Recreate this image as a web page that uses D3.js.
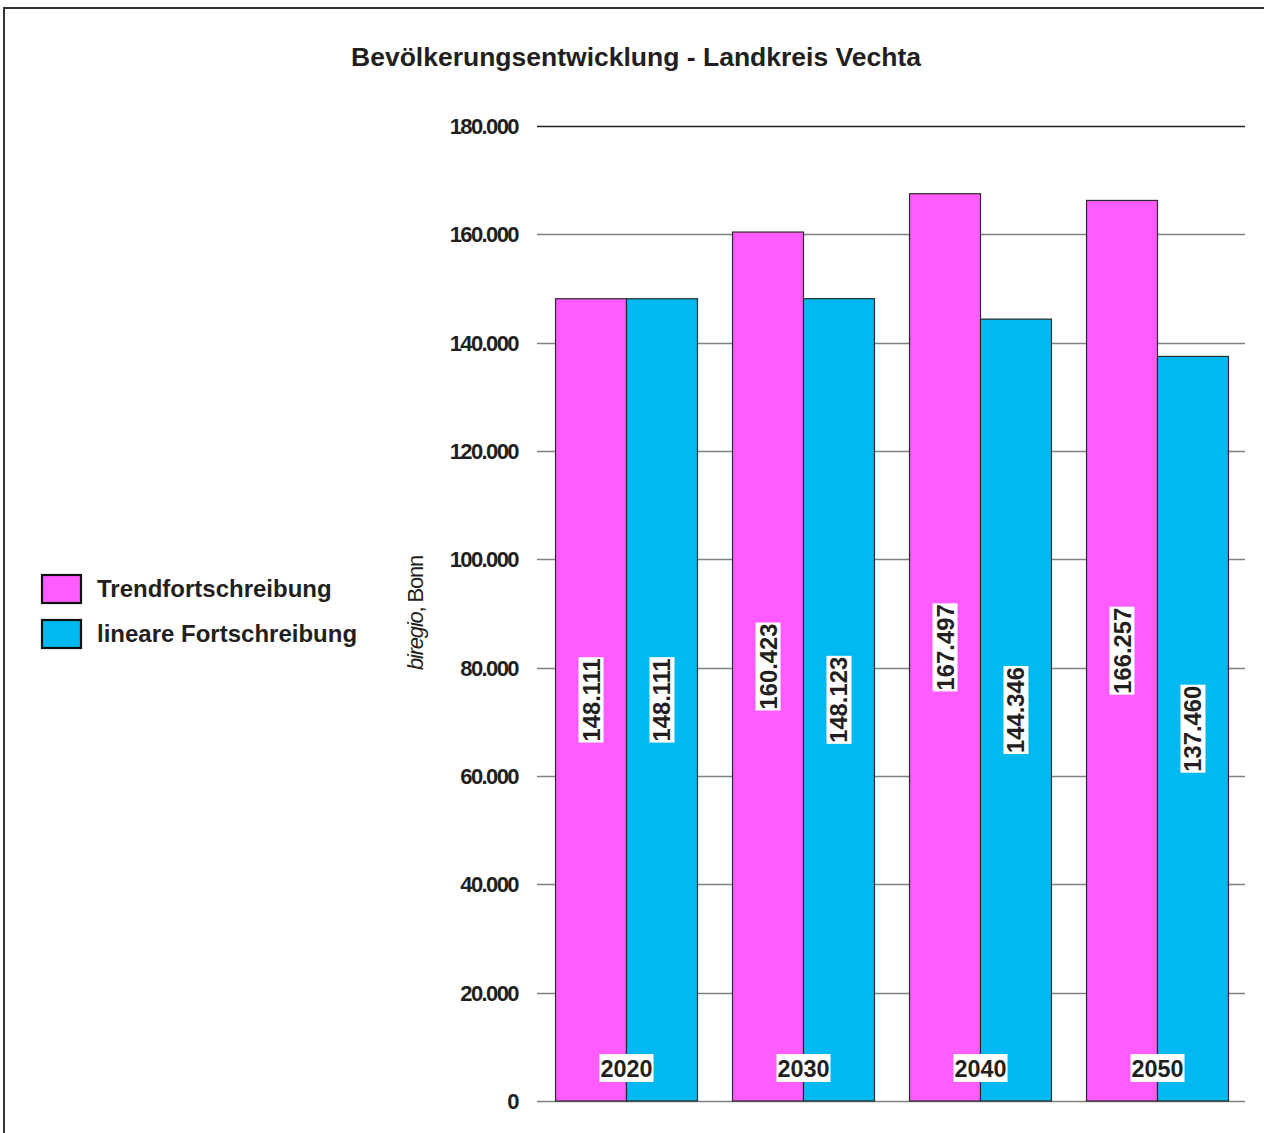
<!DOCTYPE html>
<html>
<head>
<meta charset="utf-8">
<script src="https://cdn.jsdelivr.net/npm/d3@7"></script>
<style>
  html, body { margin: 0; padding: 0; background: #fff; }
  svg { display: block; font-family: "Liberation Sans", Arial, sans-serif; }
</style>
</head>
<body>
<svg id="chart" width="1264" height="1133"></svg>
<script>
// Population projection, district of Vechta
const years = ["2020", "2030", "2040", "2050"];
const seriesNames = ["Trendfortschreibung", "lineare Fortschreibung"];
const trendValues = [148111, 160423, 167497, 166257];
const linearValues = [148111, 148123, 144346, 137460];
const yTicks = [0, 20000, 40000, 60000, 80000, 100000, 120000, 140000, 160000, 180000];
const seriesColors = ["#ff5cff", "#00b9f0"];

const svg = d3.select("#chart");
const ink = "#231f20";
const fmt = v => v === 0 ? "0" : d3.format(",")(v).replace(/,/g, ".");

// Outer frame
svg.append("rect")
  .attr("x", 4).attr("y", 8).attr("width", 1300).attr("height", 1200)
  .attr("fill", "none").attr("stroke", "#333").attr("stroke-width", 2);

// Title
svg.append("text")
  .attr("x", 636).attr("y", 66)
  .attr("text-anchor", "middle")
  .attr("font-size", 26.5).attr("font-weight", "bold").attr("fill", ink)
  .text("Bevölkerungsentwicklung - Landkreis Vechta");

const y = d3.scaleLinear().domain([0, 180000]).range([1101, 126]);
const x0 = d3.scaleBand().domain(years).range([538, 1246])
  .paddingInner(0.198).paddingOuter(0.099);
const x1 = d3.scaleBand().domain(seriesNames).range([0, x0.bandwidth()]);

// Gridlines
svg.append("g").selectAll("line").data(yTicks).join("line")
  .attr("x1", 537).attr("x2", 1245)
  .attr("y1", d => Math.round(y(d)) + 0.5).attr("y2", d => Math.round(y(d)) + 0.5)
  .attr("stroke", d => d === 180000 ? "#222" : "#808080")
  .attr("stroke-width", d => d === 180000 ? 1.3 : 1.6);

// Tick labels
svg.append("g").selectAll("text").data(yTicks).join("text")
  .attr("x", 518).attr("y", d => y(d) + 8)
  .attr("text-anchor", "end")
  .attr("font-size", 22).attr("font-weight", "bold").attr("fill", ink)
  .attr("letter-spacing", -1.6)
  .text(fmt);

// Source note
svg.append("text")
  .attr("transform", "translate(423,613) rotate(-90)")
  .attr("text-anchor", "middle")
  .attr("font-size", 22).attr("fill", ink).attr("letter-spacing", -1.2)
  .call(t => {
    t.append("tspan").attr("font-style", "italic").text("biregio");
    t.append("tspan").text(", Bonn");
  });

// Bars
const rows = years.map((yr, i) => ({ year: yr, values: [trendValues[i], linearValues[i]] }));
const groups = svg.append("g").selectAll("g").data(rows).join("g")
  .attr("transform", d => `translate(${x0(d.year)},0)`);

groups.selectAll("rect").data(d => d.values.map((v, k) => ({ name: seriesNames[k], k, v })))
  .join("rect")
  .attr("x", d => x1(d.name))
  .attr("y", d => y(d.v))
  .attr("width", x1.bandwidth())
  .attr("height", d => y(0) - y(d.v))
  .attr("fill", d => seriesColors[d.k])
  .attr("stroke", "#2a2a2a").attr("stroke-width", 1.2);

// Value labels, rotated, on white boxes at bar middle
groups.each(function(d) {
  const g = d3.select(this);
  d.values.forEach((v, k) => {
    const cx = x1(seriesNames[k]) + x1.bandwidth() / 2;
    const cy = (y(v) + y(0)) / 2;
    const lg = g.append("g").attr("transform", `translate(${cx},${cy}) rotate(-90)`);
    const t = lg.append("text")
      .attr("text-anchor", "middle").attr("y", 8.5)
      .attr("font-size", 23.8).attr("font-weight", "bold").attr("fill", ink)
      .text(fmt(v));
    const bb = t.node().getBBox();
    lg.insert("rect", "text")
      .attr("x", bb.x - 1).attr("y", -12.5).attr("width", bb.width + 2).attr("height", 25)
      .attr("fill", "#fff");
  });
  // Year label at the group's centre near the base
  const yg = g.append("g").attr("transform", `translate(${x0.bandwidth() / 2},1068)`);
  const yt = yg.append("text")
    .attr("text-anchor", "middle").attr("y", 8.5)
    .attr("font-size", 23.4).attr("font-weight", "bold").attr("fill", ink)
    .text(d.year);
  const ybb = yt.node().getBBox();
  yg.insert("rect", "text")
    .attr("x", ybb.x - 1).attr("y", -14).attr("width", ybb.width + 2).attr("height", 28)
    .attr("fill", "#fff");
});

// Legend
const legend = svg.append("g");
seriesNames.forEach((name, i) => {
  const yy = 575 + i * 45;
  legend.append("rect")
    .attr("x", 42).attr("y", yy).attr("width", 39).attr("height", 28)
    .attr("fill", seriesColors[i]).attr("stroke", "#111").attr("stroke-width", 2.2);
  legend.append("text")
    .attr("x", 97).attr("y", yy + 22)
    .attr("font-size", 24).attr("font-weight", "bold").attr("fill", ink)
    .text(name);
});
</script>
</body>
</html>
